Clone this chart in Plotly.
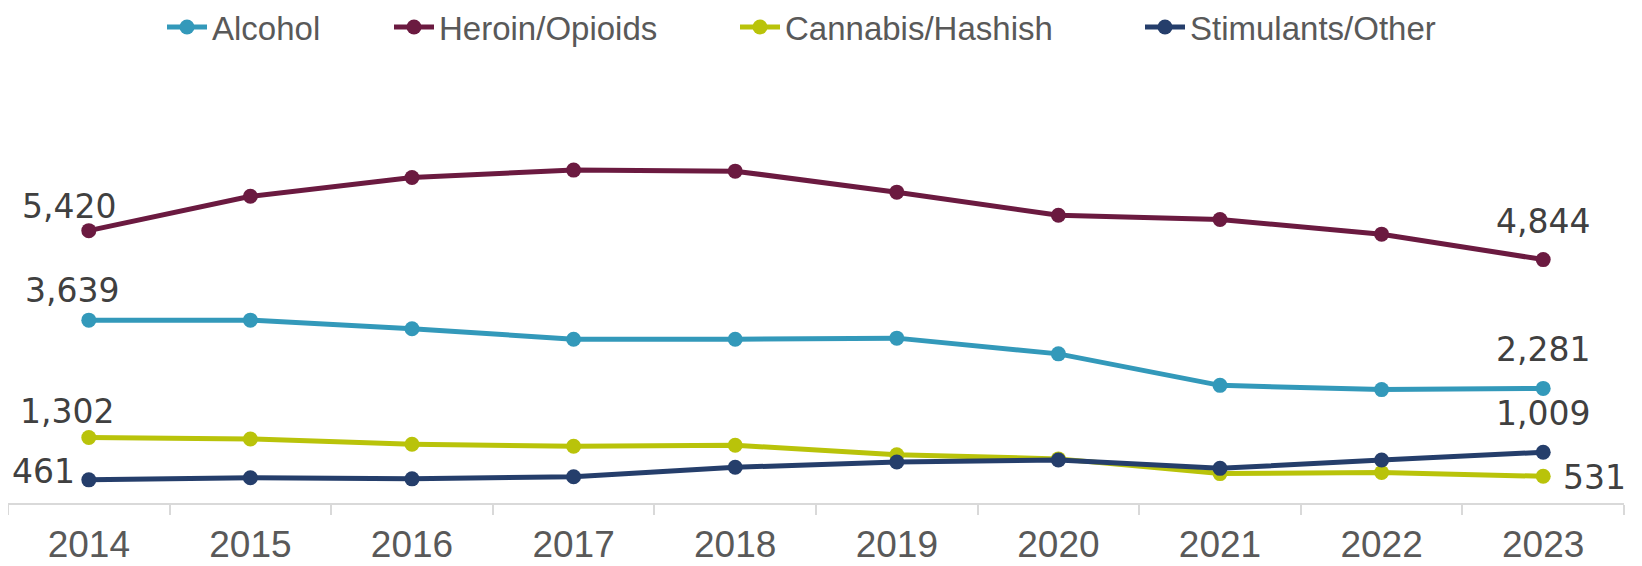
import plotly.graph_objects as go

years = ["2014", "2015", "2016", "2017", "2018", "2019", "2020", "2021", "2022", "2023"]
alcohol = [3639, 3639, 3469, 3260, 3260, 3281, 2968, 2341, 2257, 2281]
heroin = [5420, 6103, 6479, 6625, 6604, 6186, 5727, 5643, 5350, 4844]
cannabis = [1302, 1275, 1170, 1129, 1150, 961, 878, 585, 606, 531]
stimulants = [461, 502, 481, 523, 711, 815, 857, 690, 857, 1009]

series = [
    ("Alcohol", alcohol, "#3399ba"),
    ("Heroin/Opioids", heroin, "#6b1a40"),
    ("Cannabis/Hashish", cannabis, "#b9c30a"),
    ("Stimulants/Other", stimulants, "#253e6b"),
]

W, H = 1634, 558
L, R, T, B = 0, 18, 93, 63
plot_w = W - L - R

# legend left edges in figure px
legend_left = [154, 381, 727, 1132]
legend_names = ["legend", "legend2", "legend3", "legend4"]
leg_font = dict(family="Liberation Sans, Arial, sans-serif", size=33, color="#595959")

fig = go.Figure()
for (name, vals, col), lg in zip(series, legend_names):
    fig.add_trace(go.Scatter(
        x=years, y=vals, name=name, mode="lines+markers",
        line=dict(color=col, width=5),
        marker=dict(color=col, size=15),
        legend=lg,
    ))

first_lab = {
    "Alcohol": dict(xshift=-17, yshift=30, xanchor="center"),
    "Heroin/Opioids": dict(xshift=-20, yshift=24, xanchor="center"),
    "Cannabis/Hashish": dict(xshift=-22, yshift=26, xanchor="center"),
    "Stimulants/Other": dict(xshift=-12, yshift=8, xanchor="right"),
}
last_lab = {
    "Alcohol": dict(xshift=0, yshift=39, xanchor="center"),
    "Heroin/Opioids": dict(xshift=0, yshift=38, xanchor="center"),
    "Cannabis/Hashish": dict(xshift=18, yshift=-1, xanchor="left"),
    "Stimulants/Other": dict(xshift=0, yshift=39, xanchor="center"),
}
lab_font = dict(family="DejaVu Sans, Liberation Sans, sans-serif", size=33, color="#404040")
for name, vals, col in series:
    for idx, spec in ((0, first_lab[name]), (len(years) - 1, last_lab[name])):
        fig.add_annotation(
            x=idx, y=vals[idx], xref="x", yref="y",
            text=f"{vals[idx]:,}", showarrow=False,
            font=lab_font, yanchor="middle", **spec,
        )

layout_legends = {}
for lg, left in zip(legend_names, legend_left):
    layout_legends[lg] = dict(
        orientation="h", x=(left - L) / plot_w, xanchor="left", xref="paper",
        y=1 - 19 / H, yref="container", yanchor="middle",
        font=leg_font, itemwidth=40, bgcolor="rgba(0,0,0,0)",
    )

fig.update_layout(
    width=W, height=H,
    margin=dict(l=L, r=R, t=T, b=B, autoexpand=False),
    paper_bgcolor="white", plot_bgcolor="white",
    showlegend=True,
    xaxis=dict(
        type="category", showgrid=False, zeroline=False,
        showline=True, linecolor="#d9d9d9", linewidth=2,
        ticks="outside", tickson="boundaries", ticklen=10, tickwidth=2, tickcolor="#d9d9d9",
        ticklabelstandoff=8,
        tickfont=dict(family="Liberation Sans, Arial, sans-serif", size=37, color="#595959"),
        range=[-0.5, len(years) - 0.5],
    ),
    yaxis=dict(
        range=[0, 8000], showgrid=False, zeroline=False, showline=False,
        showticklabels=False, ticks="",
    ),
    **layout_legends,
)

fig.write_html("out.html")
